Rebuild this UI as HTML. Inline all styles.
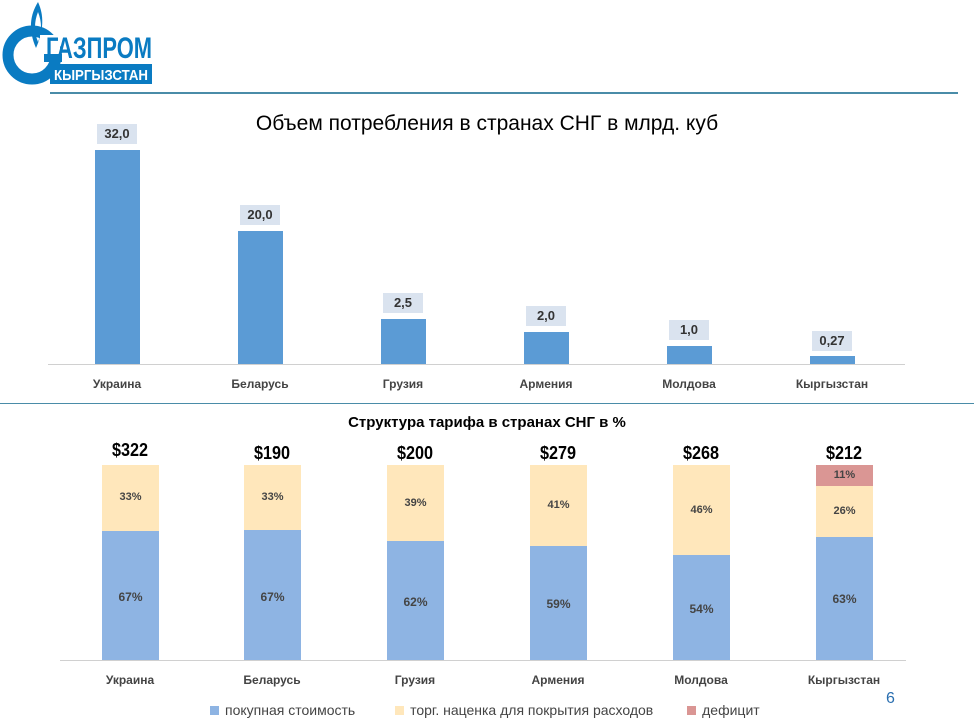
<!DOCTYPE html><html><head><meta charset="utf-8"><style>
body{margin:0;width:974px;height:728px;background:#fff;font-family:"Liberation Sans",sans-serif;position:relative;overflow:hidden}
.a{position:absolute}
.b1{position:absolute;background:#5b9bd5;width:45px}
.lb{position:absolute;background:#dae3ef;font-weight:bold;font-size:13px;color:#333;text-align:center;width:40px;height:20px;line-height:20px}
.cat{position:absolute;font-weight:bold;font-size:12px;color:#444;width:120px;text-align:center}
.p{position:absolute;width:57px}
.pt{position:absolute;width:57px;text-align:center;font-size:11px;font-weight:bold;color:#444}
.dol{position:absolute;width:80px;text-align:center;font-weight:bold;font-size:18px;color:#000;transform:scaleX(0.9)}
</style></head><body>
<svg class="a" style="left:0;top:0" width="160" height="90">
<path d="M38 2 C30 15 28 30 36 48 C44 30 44 15 38 2Z" fill="#0a7bc2"/>
<path d="M38 12 C34 22 34 32 38 42 C42 32 42 22 38 12Z" fill="#fff"/>
<circle cx="32" cy="55" r="24" fill="none" stroke="#0a7bc2" stroke-width="11"/>
<rect x="40" y="35" width="20" height="22" fill="#fff"/>
<rect x="44" y="54" width="18" height="8" fill="#0a7bc2"/>
<text x="46" y="58" font-size="30" font-weight="bold" fill="#0a7bc2" font-family="Liberation Sans" textLength="106" lengthAdjust="spacingAndGlyphs">ГАЗПРОМ</text>
<rect x="50" y="64" width="102" height="20" fill="#0a7bc2"/>
<text x="54" y="80" font-size="15" font-weight="bold" fill="#fff" font-family="Liberation Sans" textLength="94" lengthAdjust="spacingAndGlyphs">КЫРГЫЗСТАН</text>
</svg>
<div class="a" style="left:50px;top:92px;width:908px;height:2px;background:#4a8ca8"></div>
<div class="a" style="left:0;top:403px;width:974px;height:1px;background:#4a8ca8"></div>
<div class="a" style="left:0;top:112px;width:974px;text-align:center;font-size:21px;color:#000">Объем потребления в странах СНГ в млрд. куб</div>
<div class="a" style="left:48px;top:364px;width:857px;height:1px;background:#d0d0d0"></div>
<div class="b1" style="left:95px;top:150px;height:214px"></div>
<div class="b1" style="left:238px;top:231px;height:133px"></div>
<div class="b1" style="left:381px;top:319px;height:45px"></div>
<div class="b1" style="left:524px;top:332px;height:32px"></div>
<div class="b1" style="left:667px;top:346px;height:18px"></div>
<div class="b1" style="left:810px;top:356px;height:8px"></div>
<div class="lb" style="left:97px;top:124px">32,0</div>
<div class="lb" style="left:240px;top:205px">20,0</div>
<div class="lb" style="left:383px;top:293px">2,5</div>
<div class="lb" style="left:526px;top:306px">2,0</div>
<div class="lb" style="left:669px;top:320px">1,0</div>
<div class="lb" style="left:812px;top:331px">0,27</div>
<div class="cat" style="left:57px;top:377px">Украина</div>
<div class="cat" style="left:200px;top:377px">Беларусь</div>
<div class="cat" style="left:343px;top:377px">Грузия</div>
<div class="cat" style="left:486px;top:377px">Армения</div>
<div class="cat" style="left:629px;top:377px">Молдова</div>
<div class="cat" style="left:772px;top:377px">Кыргызстан</div>

<div class="a" style="left:0;top:414px;width:974px;text-align:center;font-size:15px;font-weight:bold">Структура тарифа в странах СНГ в %</div>
<div class="a" style="left:60px;top:660px;width:846px;height:1px;background:#d0d0d0"></div>
<div class="dol" style="left:90px;top:440px">$322</div>
<div class="dol" style="left:232px;top:443px">$190</div>
<div class="dol" style="left:375px;top:443px">$200</div>
<div class="dol" style="left:518px;top:443px">$279</div>
<div class="dol" style="left:661px;top:443px">$268</div>
<div class="dol" style="left:804px;top:443px">$212</div>

<div class="p" style="left:102px;top:465px;height:66px;background:#ffe7bb"></div><div class="p" style="left:102px;top:531px;height:129px;background:#8eb4e3"></div>
<div class="p" style="left:244px;top:465px;height:65px;background:#ffe7bb"></div><div class="p" style="left:244px;top:530px;height:130px;background:#8eb4e3"></div>
<div class="p" style="left:387px;top:465px;height:76px;background:#ffe7bb"></div><div class="p" style="left:387px;top:541px;height:119px;background:#8eb4e3"></div>
<div class="p" style="left:530px;top:465px;height:81px;background:#ffe7bb"></div><div class="p" style="left:530px;top:546px;height:114px;background:#8eb4e3"></div>
<div class="p" style="left:673px;top:465px;height:90px;background:#ffe7bb"></div><div class="p" style="left:673px;top:555px;height:105px;background:#8eb4e3"></div>
<div class="p" style="left:816px;top:465px;height:21px;background:#da9694"></div><div class="p" style="left:816px;top:486px;height:51px;background:#ffe7bb"></div><div class="p" style="left:816px;top:537px;height:123px;background:#8eb4e3"></div>

<div class="pt" style="left:102px;top:491px">33%</div><div class="pt" style="left:102px;top:590px;font-size:12px">67%</div>
<div class="pt" style="left:244px;top:491px">33%</div><div class="pt" style="left:244px;top:590px;font-size:12px">67%</div>
<div class="pt" style="left:387px;top:497px">39%</div><div class="pt" style="left:387px;top:595px;font-size:12px">62%</div>
<div class="pt" style="left:530px;top:499px">41%</div><div class="pt" style="left:530px;top:597px;font-size:12px">59%</div>
<div class="pt" style="left:673px;top:504px">46%</div><div class="pt" style="left:673px;top:602px;font-size:12px">54%</div>
<div class="pt" style="left:816px;top:469px">11%</div><div class="pt" style="left:816px;top:505px">26%</div><div class="pt" style="left:816px;top:592px;font-size:12px">63%</div>

<div class="cat" style="left:70px;top:673px">Украина</div>
<div class="cat" style="left:212px;top:673px">Беларусь</div>
<div class="cat" style="left:355px;top:673px">Грузия</div>
<div class="cat" style="left:498px;top:673px">Армения</div>
<div class="cat" style="left:641px;top:673px">Молдова</div>
<div class="cat" style="left:784px;top:673px">Кыргызстан</div>
<div class="a" style="left:886px;top:690px;font-size:16px;color:#2a6fb0">6</div>
<div class="a" style="left:210px;top:702px;font-size:14px;color:#444;white-space:nowrap">
<span style="display:inline-block;width:9px;height:9px;background:#8eb4e3;margin-right:6px"></span>покупная стоимость
<span style="display:inline-block;width:9px;height:9px;background:#ffe7bb;margin:0 6px 0 36px"></span>торг. наценка для покрытия расходов
<span style="display:inline-block;width:9px;height:9px;background:#da9694;margin:0 6px 0 30px"></span>дефицит</div>
</body></html>
